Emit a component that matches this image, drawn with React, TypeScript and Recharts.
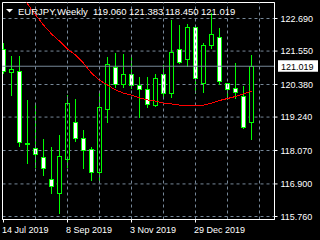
import React from "react";
import {
  ComposedChart,
  Bar,
  Line,
  XAxis,
  YAxis,
  CartesianGrid,
  ReferenceLine,
  ReferenceArea,
} from "recharts";

// weekly EURJPY candles, index 0 = week of 14 Jul 2019
const opens = [
  121.61, 120.8, 120.84, 118.33, 118.14, 117.83, 117.06, 116.57, 117.76, 119.05,
  118.49, 118.11, 117.3, 119.51, 120.98, 120.38, 120.73, 120.35, 120.21, 119.65,
  120.73, 120.07, 121.61, 121.26, 122.38, 120.42, 121.75, 122.03, 120.42, 120.24,
  119.96, 119.06,
];
const highs = [
  121.82, 121.36, 121.36, 119.82, 119.68, 118.46, 118.18, 118.6, 120.0, 119.86,
  118.77, 118.18, 120.1, 121.33, 121.47, 121.43, 121.33, 120.63, 120.63, 120.73,
  121.05, 122.62, 122.45, 122.48, 122.4, 121.82, 122.87, 122.34, 120.43, 121.12,
  120.31, 121.383,
];
const lows = [
  120.77, 120.0, 118.21, 117.62, 117.48, 117.2, 116.57, 115.87, 117.48, 118.39,
  117.44, 117.02, 117.02, 119.05, 120.28, 120.28, 120.24, 119.23, 119.58, 119.62,
  119.96, 119.93, 121.13, 121.01, 120.07, 120.1, 121.64, 120.38, 119.86, 119.89,
  118.84, 118.45,
];
const closes = [
  120.84, 120.91, 118.35, 118.3, 117.93, 117.44, 116.81, 117.86, 119.72, 118.49,
  118.07, 117.3, 119.58, 121.08, 120.38, 120.73, 120.35, 120.21, 119.68, 120.59,
  120.07, 121.5, 121.15, 122.38, 120.59, 121.75, 122.13, 120.49, 120.21, 120.1,
  118.88, 121.019,
];
const movingAvg = [
  124.25, 123.9, 123.55, 123.2, 122.82, 122.46, 122.15, 121.9, 121.62, 121.41,
  121.13, 120.78, 120.53, 120.36, 120.19, 120.08, 120.01, 119.91, 119.84, 119.8,
  119.73, 119.7, 119.66, 119.65, 119.63, 119.66, 119.73, 119.82, 119.89, 119.96,
  120.05, 120.15,
];

const dateTicks = [0, 8, 16, 24];
const dateLabels = ["14 Jul 2019", "8 Sep 2019", "3 Nov 2019", "29 Dec 2019"];
const gridWeeks = [4, 8, 12, 16, 20, 24, 28, 32];
const priceTicks = [115.76, 116.9, 118.07, 119.24, 120.38, 121.55, 122.69];
const lastPrice = 121.019;
const symbolTitle = "EURJPY,Weekly";
const headerValues = ["119.060", "121.383", "118.450", "121.019"];

const xDomain: [number, number] = [-0.125, 33.875];
const yDomain: [number, number] = [115.655, 123.25];

const GREEN = "#00ff00";
const GRID = "#778899";
const FONT = "'Liberation Sans', Arial, sans-serif";

const data = opens.map((o, i) => ({
  i,
  o,
  h: highs[i],
  l: lows[i],
  c: closes[i],
  ma: movingAvg[i],
}));

function Candle(props: any) {
  const { x, y, width, height, payload } = props;
  if (!payload) return null;
  const { o, h, l, c } = payload;
  const top = Math.min(y, y + height);
  const span = Math.abs(height);
  const k = span / (h - l);
  const cx = Math.floor(x + width / 2) + 0.5;
  const yOf = (v: number) => top + (h - v) * k;
  const bTop = Math.floor(yOf(Math.max(o, c))) + 0.5;
  const bBot = Math.floor(yOf(Math.min(o, c))) + 0.5;
  const bull = c >= o;
  return (
    <g shapeRendering="crispEdges">
      <line
        x1={cx}
        x2={cx}
        y1={Math.floor(top)}
        y2={Math.floor(top + span) + 1}
        stroke={GREEN}
      />
      <rect
        x={cx - 2}
        y={bTop}
        width={4}
        height={Math.max(bBot - bTop, 1)}
        fill={bull ? "#000" : "#fff"}
        stroke={GREEN}
      />
    </g>
  );
}

function DateTick(props: any) {
  const { x, y, payload } = props;
  const idx = dateTicks.indexOf(payload.value);
  return (
    <text x={x - 1.5} y={y + 8} fill="#fff" fontSize={9} fontFamily={FONT} textAnchor="start">
      {dateLabels[idx]}
    </text>
  );
}

function PriceTag(props: any) {
  const vb = props.viewBox || {};
  const right = vb.x + vb.width;
  const y = vb.y;
  return (
    <g>
      <rect x={right + 3.5} y={y - 6} width={40} height={11.5} fill="#fff" />
      <text x={right + 6.5} y={y + 3.5} fill="#000" fontSize={9} fontFamily={FONT}>
        {lastPrice.toFixed(3)}
      </text>
    </g>
  );
}

export default function App() {
  return (
    <div
      style={{
        position: "absolute",
        left: 0,
        top: 0,
        width: 320,
        height: 240,
        background: "#000",
        fontFamily: FONT,
      }}
    >
      <style>{`.ma-line path { shape-rendering: crispEdges; }`}</style>
      <ComposedChart
        width={320}
        height={240}
        data={data}
        margin={{ top: 2.5, right: 0, bottom: 0, left: 2.5 }}
      >
        <CartesianGrid stroke={GRID} strokeDasharray="3 3" vertical={false} />
        <XAxis
          dataKey="i"
          type="number"
          domain={xDomain}
          allowDataOverflow
          ticks={dateTicks}
          interval={0}
          height={20.5}
          axisLine={{ stroke: "#fff" }}
          tickLine={{ stroke: "#fff" }}
          tickSize={3}
          tickMargin={2}
          tick={<DateTick />}
        />
        <YAxis
          orientation="right"
          type="number"
          domain={yDomain}
          allowDataOverflow
          ticks={priceTicks}
          interval={0}
          width={45.5}
          axisLine={{ stroke: "#fff" }}
          tickLine={{ stroke: "#fff" }}
          tickSize={3}
          tickMargin={3}
          tick={{ fill: "#fff", fontSize: 9, fontFamily: FONT }}
          tickFormatter={(v: number) => v.toFixed(3)}
        />
        {gridWeeks.map((w) => (
          <ReferenceLine key={w} x={w} stroke={GRID} strokeDasharray="3 3" />
        ))}
        <ReferenceLine y={lastPrice} stroke={GRID} label={(p: any) => <PriceTag {...p} />} />
        <Bar
          dataKey={(d: any) => [d.l, d.h]}
          barSize={5}
          shape={(p: any) => <Candle {...p} />}
          isAnimationActive={false}
        />
        <Line
          className="ma-line"
          dataKey="ma"
          type="linear"
          stroke="#ff0000"
          strokeWidth={1}
          dot={false}
          isAnimationActive={false}
        />
        <ReferenceArea
          x1={xDomain[0]}
          x2={xDomain[1]}
          y1={yDomain[0]}
          y2={yDomain[1]}
          fill="none"
          fillOpacity={0}
          stroke="#fff"
          strokeWidth={1}
        />
      </ComposedChart>
      <svg
        width={320}
        height={20}
        style={{ position: "absolute", left: 0, top: 0, pointerEvents: "none" }}
      >
        <polygon points="6,9 13,9 9.5,12.5" fill="#fff" />
        <text x={18} y={14.5} fill="#fff" fontSize={9.5} fontFamily={FONT}>
          {symbolTitle}
        </text>
        {headerValues.map((v, k) => (
          <text key={v + k} x={93 + k * 36} y={14.5} fill="#fff" fontSize={9.5} fontFamily={FONT}>
            {v}
          </text>
        ))}
      </svg>
    </div>
  );
}
